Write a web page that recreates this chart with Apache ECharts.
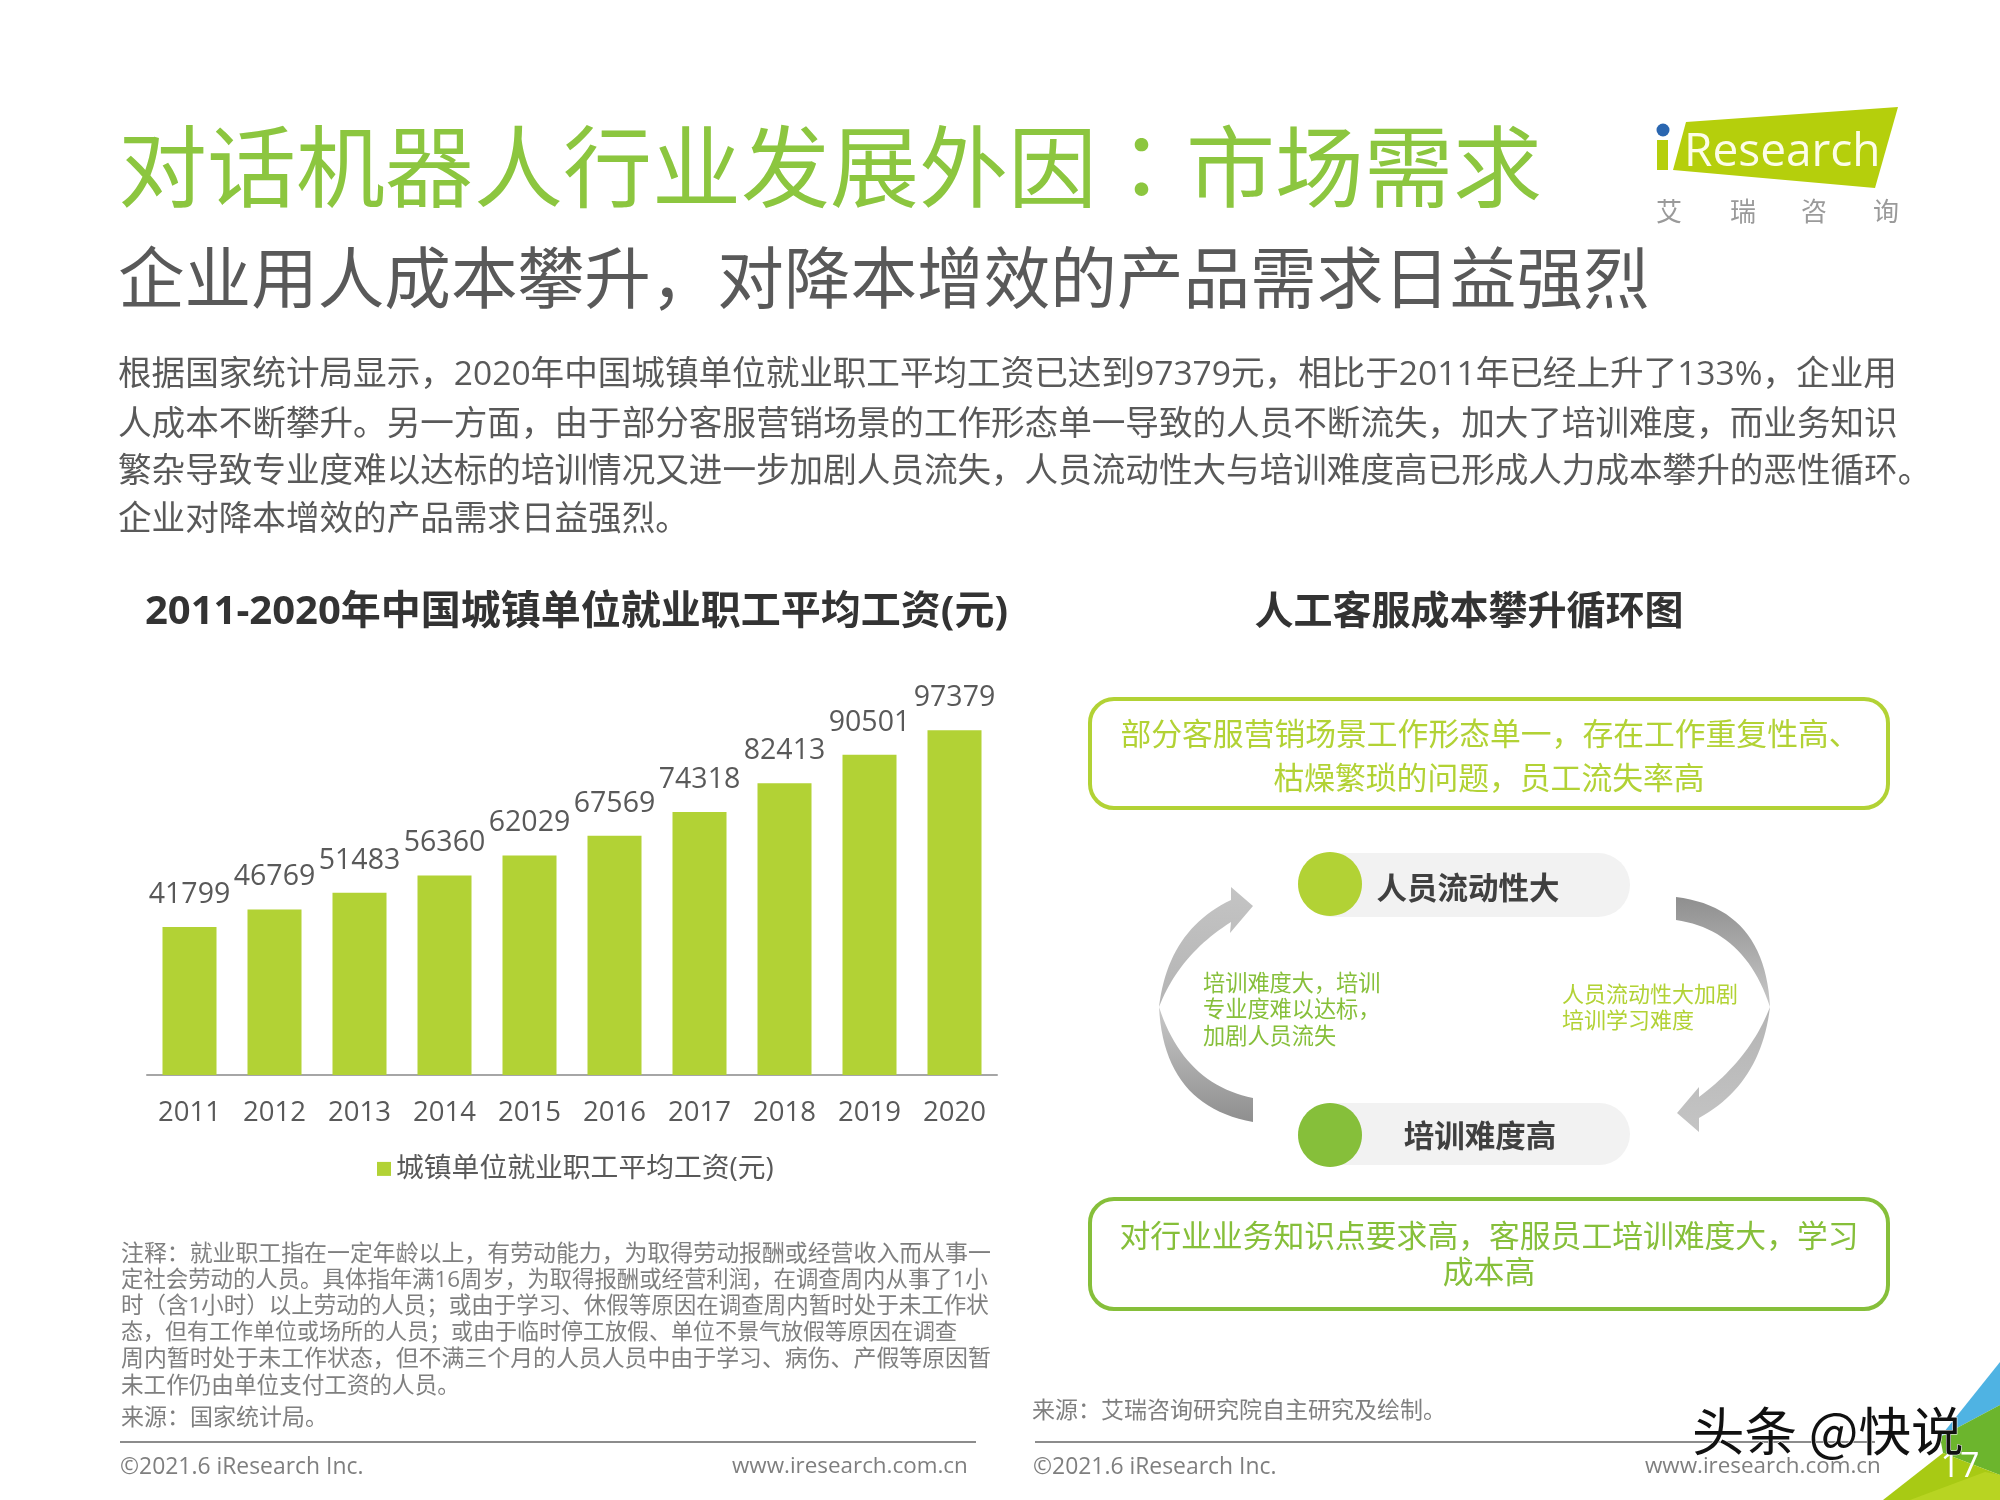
<!DOCTYPE html>
<html>
<head>
<meta charset="utf-8">
<title>对话机器人行业发展外因</title>
<style>
html, body { margin: 0; padding: 0; background: #fff; }
#main { width: 2000px; height: 1500px; }
</style>
<script src="https://cdn.jsdelivr.net/npm/echarts@6/dist/echarts.min.js"></script>
</head>
<body>
<div id="main"></div>
<script>
var years = ['2011', '2012', '2013', '2014', '2015', '2016', '2017', '2018', '2019', '2020'];
var wages = [41799, 46769, 51483, 56360, 62029, 67569, 74318, 82413, 90501, 97379];
var seriesName = '城镇单位就业职工平均工资(元)';
var paragraph = [
    '根据国家统计局显示，2020年中国城镇单位就业职工平均工资已达到97379元，相比于2011年已经上升了133%，企业用',
    '人成本不断攀升。另一方面，由于部分客服营销场景的工作形态单一导致的人员不断流失，加大了培训难度，而业务知识',
    '繁杂导致专业度难以达标的培训情况又进一步加剧人员流失，人员流动性大与培训难度高已形成人力成本攀升的恶性循环。',
    '企业对降本增效的产品需求日益强烈。'
];
var notes = [
    '注释：就业职工指在一定年龄以上，有劳动能力，为取得劳动报酬或经营收入而从事一',
    '定社会劳动的人员。具体指年满16周岁，为取得报酬或经营利润，在调查周内从事了1小',
    '时（含1小时）以上劳动的人员；或由于学习、休假等原因在调查周内暂时处于未工作状',
    '态，但有工作单位或场所的人员；或由于临时停工放假、单位不景气放假等原因在调查',
    '周内暂时处于未工作状态，但不满三个月的人员人员中由于学习、病伤、产假等原因暂',
    '未工作仍由单位支付工资的人员。'
];

var GREEN = '#b2d235';
var DARK_GREEN = '#86bf3a';
var FONT = '"Open Sans","Noto Sans CJK SC",sans-serif';
var FONT_TC = '"Open Sans","Noto Sans CJK TC",sans-serif';
var els = [];

function text(str, x, y, size, color, align, weight, family) {
    els.push({
        type: 'text',
        z: 10,
        style: {
            text: str, x: x, y: y + size * 0.09,
            font: (weight || 'normal') + ' ' + size + 'px ' + (family || FONT),
            fill: color,
            align: align || 'left', textAlign: align || 'left',
            verticalAlign: 'middle', textVerticalAlign: 'middle'
        }
    });
}
function poly(points, fill) {
    els.push({ type: 'polygon', z: 5, shape: { points: points }, style: { fill: fill } });
}
function box(x, y, w, h, r, stroke, fill, lineWidth) {
    els.push({
        type: 'rect', z: 4,
        shape: { x: x, y: y, width: w, height: h, r: r },
        style: { fill: fill || 'none', stroke: stroke || 'none', lineWidth: lineWidth || 0 }
    });
}
function line(x1, x2, y) {
    els.push({ type: 'line', z: 3, shape: { x1: x1, y1: y, x2: x2, y2: y }, style: { stroke: '#8c8c8c', lineWidth: 2 } });
}
// 二次贝塞尔取点，画箭头弧线用
function curve(a, c, b) {
    var pts = [];
    for (var i = 0; i <= 24; i++) {
        var t = i / 24, s = 1 - t;
        pts.push([s * s * a[0] + 2 * s * t * c[0] + t * t * b[0], s * s * a[1] + 2 * s * t * c[1] + t * t * b[1]]);
    }
    return pts;
}
function vgrad(c1, c2) {
    return new echarts.graphic.LinearGradient(0, 0, 0, 1, [{ offset: 0, color: c1 }, { offset: 1, color: c2 }]);
}

// 标题
text('对话机器人行业发展外因：市场需求', 118, 167, 89, '#8cc63f', 'left', 'normal', FONT_TC);
text('企业用人成本攀升，对降本增效的产品需求日益强烈', 118, 278, 66.6, '#595959');
paragraph.forEach(function (s, i) { text(s, 118, [372, 422, 469, 517][i], 33.6, '#595959'); });

// logo
poly([[1686, 122], [1898, 107], [1875, 188], [1673, 170]], '#b5cf0c');
els.push({ type: 'rect', z: 5, shape: { x: 1657, y: 140, width: 11, height: 30 }, style: { fill: '#b5cf0c' } });
els.push({ type: 'circle', z: 5, shape: { cx: 1663, cy: 130, r: 6.5 }, style: { fill: '#2a66b0' } });
text('Research', 1684, 149, 46, '#fdfde8');
['艾', '瑞', '咨', '询'].forEach(function (s, i) { text(s, [1669, 1743, 1814, 1886][i], 211, 26, '#9a9a9a', 'center'); });

// 右侧标题和两个文字框
text('人工客服成本攀升循环图', 1469, 609, 39, '#333333', 'center', 'bold');
box(1090, 699, 798, 109, 24, GREEN, '#fff', 4);
text('部分客服营销场景工作形态单一，存在工作重复性高、', 1490, 733, 30.8, GREEN, 'center');
text('枯燥繁琐的问题，员工流失率高', 1489, 777, 30.8, GREEN, 'center');
box(1090, 1199, 798, 110, 24, DARK_GREEN, '#fff', 4);
text('对行业业务知识点要求高，客服员工培训难度大，学习', 1489, 1235, 30.8, DARK_GREEN, 'center');
text('成本高', 1489, 1271, 30.8, DARK_GREEN, 'center');

// 循环图
box(1300, 853, 330, 64, 32, null, '#f2f2f2');
box(1300, 1103, 330, 62, 31, null, '#f2f2f2');
els.push({ type: 'ellipse', z: 6, shape: { cx: 1330, cy: 884, rx: 32, ry: 32 }, style: { fill: GREEN } });
els.push({ type: 'ellipse', z: 6, shape: { cx: 1330, cy: 1135, rx: 32, ry: 32 }, style: { fill: DARK_GREEN } });
text('人员流动性大', 1468, 888, 30.5, '#404040', 'center', 'bold');
text('培训难度高', 1480, 1136, 30.5, '#404040', 'center', 'bold');
poly(curve([1159, 1007], [1168, 930], [1231, 900]).concat([[1231, 887], [1253, 906], [1230, 933], [1231, 922]], curve([1231, 922], [1179, 955], [1159, 1007])), vgrad('#c4c4c4', '#b4b4b4'));
poly(curve([1159, 1007], [1164, 1106], [1253, 1122]).concat(curve([1253, 1098], [1184, 1084], [1159, 1007])), vgrad('#c8c8c8', '#8f8f8f'));
poly(curve([1676, 897], [1765, 908], [1770, 1007]).concat(curve([1770, 1007], [1745, 930], [1676, 920])), vgrad('#8f8f8f', '#c8c8c8'));
poly(curve([1770, 1007], [1761, 1084], [1699, 1118]).concat([[1699, 1132], [1677, 1113], [1699, 1087], [1699, 1097]], curve([1699, 1097], [1750, 1059], [1770, 1007])), vgrad('#b4b4b4', '#c4c4c4'));
text('培训难度大，培训', 1203, 983, 22.2, DARK_GREEN);
text('专业度难以达标，', 1203, 1009, 22.2, DARK_GREEN);
text('加剧人员流失', 1203, 1036, 22.2, DARK_GREEN);
text('人员流动性大加剧', 1562, 994, 22, GREEN);
text('培训学习难度', 1562, 1020, 22, GREEN);

// 注释、来源
var noteSizes = [22.9, 22.4, 22.5, 22, 22.9, 22.6];
notes.forEach(function (s, i) { text(s, 121, [1252, 1279, 1305, 1331, 1357, 1385][i], noteSizes[i], '#7f7f7f'); });
text('来源：国家统计局。', 121, 1416, 23, '#7f7f7f');
text('来源：艾瑞咨询研究院自主研究及绘制。', 1032, 1409, 23, '#7f7f7f');

// 页脚
line(120, 976, 1442);
line(1035, 1875, 1442);
text('©2021.6 iResearch Inc.', 120, 1465, 22.9, '#7f7f7f');
text('www.iresearch.com.cn', 732, 1465, 22.4, '#7f7f7f');
text('©2021.6 iResearch Inc.', 1033, 1465, 22.9, '#7f7f7f');
text('www.iresearch.com.cn', 1645, 1465, 22.4, '#7f7f7f');

// 右下角
poly([[2000, 1362], [1940, 1437], [2000, 1405]], '#4fb3e3');
poly([[2000, 1405], [1940, 1437], [1943, 1453], [2000, 1475]], '#6cb52d');
poly([[1943, 1453], [1883, 1500], [2000, 1500], [2000, 1475]], '#a8ca14');
poly([[1910, 1500], [1985, 1472], [2000, 1475], [2000, 1500]], '#b8d422');
text('17', 1960, 1464, 34, '#ffffff', 'center');
els.push({
    type: 'text', z: 12,
    style: {
        text: '头条 @快说', x: 1692, y: 1431,
        font: 'normal 52.5px "Noto Sans CJK SC",sans-serif',
        fill: '#111111', stroke: '#ffffff', lineWidth: 1,
        align: 'left', textAlign: 'left', verticalAlign: 'middle', textVerticalAlign: 'middle'
    }
});

var chart = echarts.init(document.getElementById('main'), null, { renderer: 'canvas' });
chart.setOption({
    backgroundColor: '#fff',
    animation: false,
    title: {
        text: '2011-2020年中国城镇单位就业职工平均工资(元)',
        left: 140,
        top: 588,
        textStyle: { fontFamily: FONT, fontSize: 40, fontWeight: 'bold', color: '#333333' }
    },
    legend: {
        data: [seriesName],
        left: 372,
        top: 1150,
        icon: 'rect',
        itemWidth: 14,
        itemHeight: 14,
        itemGap: 6,
        textStyle: { fontFamily: FONT, fontSize: 27.8, color: '#595959' }
    },
    grid: { left: 147, top: 675, width: 850, height: 400 },
    xAxis: {
        type: 'category',
        data: years,
        axisTick: { show: false },
        axisLine: { lineStyle: { color: '#a6a6a6', width: 2 } },
        axisLabel: { fontFamily: FONT, fontSize: 27.5, color: '#595959', margin: 24 }
    },
    yAxis: { type: 'value', min: 0, max: 113000, show: false },
    series: [{
        name: seriesName,
        type: 'bar',
        data: wages,
        barWidth: 54,
        itemStyle: { color: GREEN },
        label: { show: true, position: 'top', distance: 18, fontFamily: FONT, fontSize: 28.5, color: '#595959' }
    }],
    graphic: { elements: els }
});
</script>
</body>
</html>
